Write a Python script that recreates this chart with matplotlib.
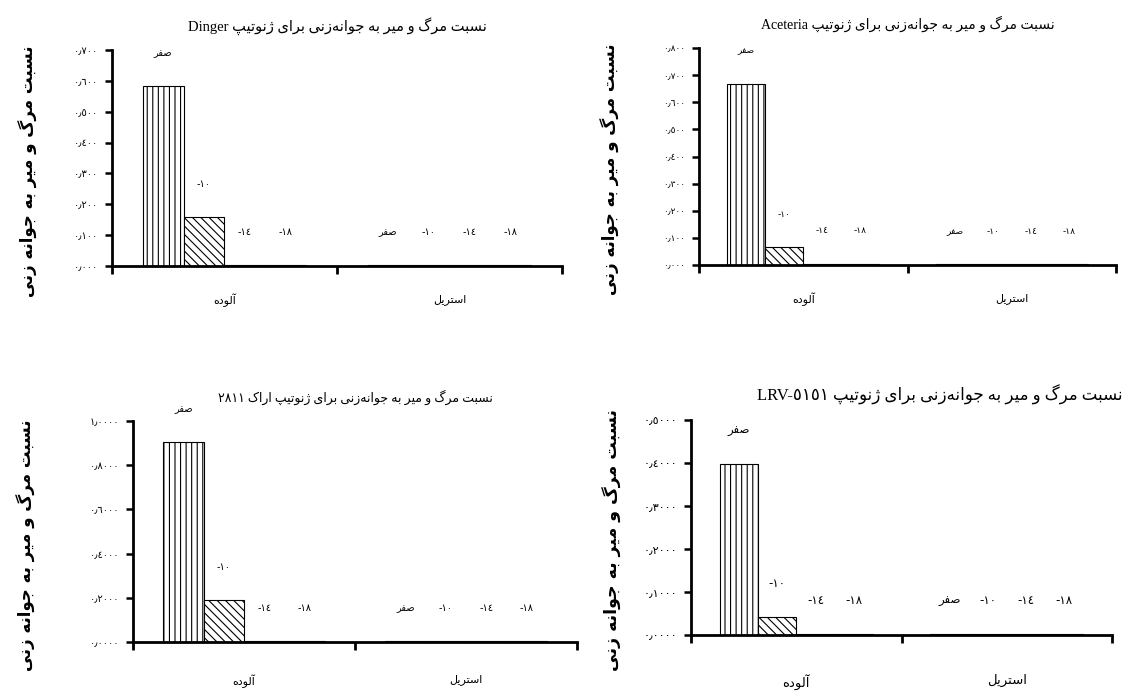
import re
import numpy as np
import matplotlib
matplotlib.use('Agg')
import matplotlib.pyplot as plt

# data
categories = ['آلوده', 'استریل']
temps = ['صفر', '-١٠', '-١٤', '-١٨']

titles = ['نسبت مرگ و میر به جوانه\u200cزنی برای ژنوتیپ Dinger',
          'نسبت مرگ و میر به جوانه\u200cزنی برای ژنوتیپ Aceteria',
          'نسبت مرگ و میر به جوانه\u200cزنی برای ژنوتیپ اراک ٢٨١١',
          'نسبت مرگ و میر به جوانه\u200cزنی برای ژنوتیپ LRV-٥١٥١']
ylabel = 'نسبت مرگ و میر به جوانه زنی'

# values per temperature, [آلوده, استریل]
dinger = [[0.583, 0.002], [0.159, 0.002], [0.003, 0.002], [0.003, 0.002]]
aceteria = [[0.667, 0.002], [0.065, 0.002], [0.003, 0.002], [0.003, 0.002]]
arak = [[0.905, 0.004], [0.189, 0.004], [0.005, 0.004], [0.004, 0.004]]
lrv = [[0.397, 0.002], [0.043, 0.002], [0.002, 0.002], [0.002, 0.002]]

# minimal arabic shaping (matplotlib has no complex text layout)
FORMS = {
    'ا': 'ﺍﺎ', 'آ': 'ﺁﺂ', 'د': 'ﺩﺪ', 'ر': 'ﺭﺮ', 'ز': 'ﺯﺰ', 'ژ': 'ﮊﮋ', 'و': 'ﻭﻮ',
    'ب': 'ﺏﺐﺑﺒ', 'پ': 'ﭖﭗﭘﭙ', 'ت': 'ﺕﺖﺗﺘ', 'ج': 'ﺝﺞﺟﺠ', 'س': 'ﺱﺲﺳﺴ',
    'ص': 'ﺹﺺﺻﺼ', 'ف': 'ﻑﻒﻓﻔ', 'ک': 'ﮎﮏﮐﮑ', 'گ': 'ﮒﮓﮔﮕ', 'ل': 'ﻝﻞﻟﻠ',
    'م': 'ﻡﻢﻣﻤ', 'ن': 'ﻥﻦﻧﻨ', 'ه': 'ﻩﻪﻫﻬ', 'ی': 'ﯼﯽﯾﯿ',
}


def shape(s):
    out = []
    for i, c in enumerate(s):
        if c not in FORMS:
            out.append(c)
            continue
        f = FORMS[c]
        prev = s[i - 1] if i > 0 else ''
        nxt = s[i + 1] if i + 1 < len(s) else ''
        jp = prev in FORMS and len(FORMS[prev]) == 4
        jn = len(f) == 4 and nxt in FORMS
        if jp and jn:
            out.append(f[3])
        elif jp:
            out.append(f[1])
        elif jn:
            out.append(f[2])
        else:
            out.append(f[0])
    return ''.join(out).replace('\u200c', '')


def fa(s):
    t = shape(s)[::-1]
    return re.sub(r'[A-Za-z0-9\u0660-\u0669][A-Za-z0-9\u0660-\u0669\-\.]*',
                  lambda m: m.group(0)[::-1], t)


def ar_num(v, nd):
    return f'{v:.{nd}f}'.translate(str.maketrans('0123456789.', '٠١٢٣٤٥٦٧٨٩٫'))


plt.rcParams['font.family'] = ['DejaVu Sans']
plt.rcParams['hatch.linewidth'] = 0.8

fig = plt.figure(figsize=(11.24, 6.93), dpi=100)

hatches = ['|||', '\\\\\\\\', '', '']
w = 0.182


def panel(rect, title, vals, ymax, step, nd, ylx, fs_title, fs_lab, fs_tick,
          fs_cat, cat_pad, fs_ylab, title_x=0.5):
    ax = fig.add_axes(rect)
    x = np.arange(len(categories))
    for j in range(4):
        pos = x + (j - 1.5) * w
        ax.bar(pos, vals[j], w, color='white', edgecolor='black',
               hatch=hatches[j], lw=0.8)
        for p, h in zip(pos, vals[j]):
            ax.annotate(fa(temps[j]), (p, h), xytext=(0, 24), textcoords='offset points',
                        ha='center', va='center', fontsize=fs_lab)
    ax.set_xlim(-0.5, 1.5)
    ax.set_ylim(0, ymax)
    for s in ['top', 'right']:
        ax.spines[s].set_visible(False)
    for s in ['left', 'bottom']:
        ax.spines[s].set_linewidth(2)
    yt = np.arange(0, ymax + step / 2, step)
    ax.set_yticks(yt)
    ax.set_yticklabels([ar_num(v, nd) for v in yt])
    ax.tick_params(axis='y', direction='out', length=5, width=1.8, labelsize=fs_tick, pad=5)
    ax.set_xticks([-0.5, 0.5, 1.5])
    ax.set_xticklabels(['', '', ''])
    ax.tick_params(axis='x', which='major', direction='out', length=6, width=2)
    ax.set_xticks(x, minor=True)
    ax.set_xticklabels([fa(c) for c in categories], minor=True, fontsize=fs_cat)
    ax.tick_params(axis='x', which='minor', length=0, pad=cat_pad)
    ax.set_title(fa(title), fontsize=fs_title, pad=14, x=title_x,
                 family=['Liberation Serif', 'DejaVu Sans'])
    ax.set_ylabel(fa(ylabel), fontsize=fs_ylab, fontweight='bold')
    ax.yaxis.set_label_coords(ylx, 0.44)
    return ax


panel([0.0996, 0.6162, 0.4004, 0.3117], titles[0], dinger, 0.7, 0.1, 3, -0.164,
      10.5, 7, 7, 8, 20, 12)
panel([0.6219, 0.6176, 0.3710, 0.3131], titles[1], aceteria, 0.8, 0.1, 3, -0.19,
      10, 6.5, 6.5, 8, 20, 12)
panel([0.1183, 0.0736, 0.3950, 0.3189], titles[2], arak, 1.0, 0.2, 4, -0.218,
      9, 7, 7, 8, 23, 12)
panel([0.6148, 0.0837, 0.3746, 0.3102], titles[3], lrv, 0.5, 0.1, 4, -0.164,
      12, 8.5, 8, 9.5, 28, 12.5, title_x=0.59)

fig.savefig('out.png', dpi=100)
